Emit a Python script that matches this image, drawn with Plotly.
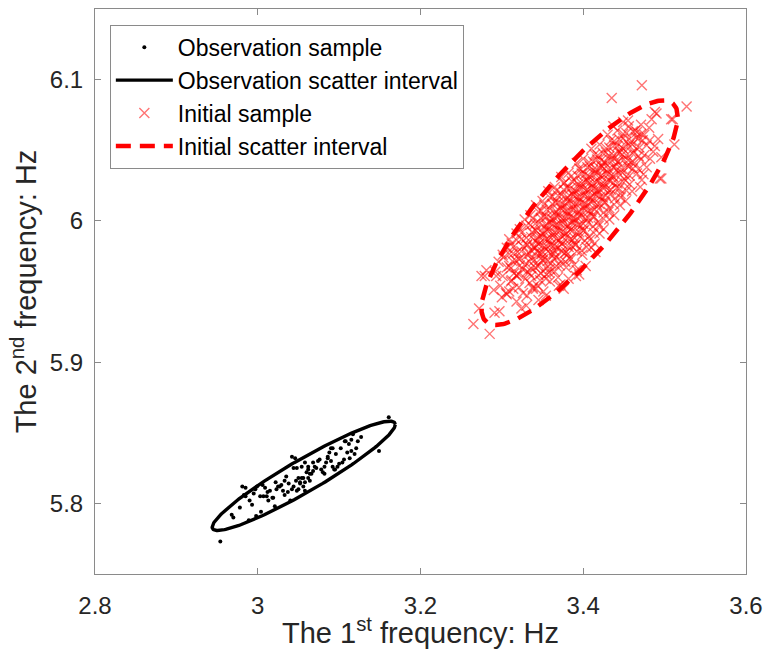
import numpy as np
import plotly.graph_objects as go

# ---------------- data ----------------
obs_points = [
    (2.954, 5.773), (3.161, 5.861), (2.968, 5.792), (2.970, 5.790), (2.989, 5.788),
    (2.998, 5.791), (3.004, 5.794), (2.990, 5.802), (2.985, 5.805), (2.995, 5.807),
    (2.997, 5.810), (2.999, 5.812), (3.006, 5.813), (3.007, 5.805), (3.011, 5.805),
    (3.013, 5.802), (3.018, 5.804), (3.021, 5.798), (3.015, 5.809), (3.023, 5.810),
    (3.022, 5.815), (3.027, 5.812), (3.031, 5.809), (3.033, 5.816), (3.033, 5.806),
    (3.038, 5.814), (3.040, 5.802), (3.042, 5.810), (3.044, 5.812), (3.047, 5.816),
    (3.050, 5.810), (3.052, 5.814), (3.056, 5.818), (3.058, 5.809), (3.044, 5.825),
    (3.048, 5.825), (3.054, 5.826), (3.058, 5.829), (3.062, 5.824), (3.064, 5.821),
    (3.064, 5.816), (3.046, 5.832), (3.042, 5.833), (2.983, 5.806), (2.981, 5.812),
    (2.985, 5.811), (3.009, 5.811), (3.019, 5.804), (3.025, 5.812), (3.037, 5.808),
    (3.048, 5.809), (3.050, 5.818), (3.062, 5.818), (3.149, 5.837), (3.127, 5.847),
    (3.123, 5.844), (3.115, 5.845), (3.108, 5.844), (3.112, 5.842), (3.121, 5.839),
    (3.115, 5.837), (3.110, 5.836), (3.106, 5.831), (3.104, 5.829), (3.098, 5.826),
    (3.095, 5.824), (3.090, 5.839), (3.088, 5.836), (3.086, 5.832), (3.084, 5.829),
    (3.090, 5.830), (3.092, 5.826), (3.082, 5.826), (3.078, 5.824), (3.080, 5.822),
    (3.074, 5.830), (3.072, 5.825), (3.068, 5.823), (3.066, 5.821), (3.060, 5.822),
    (3.054, 5.818), (3.056, 5.812), (3.052, 5.815), (3.062, 5.826), (3.068, 5.829),
    (3.096, 5.835), (3.102, 5.839), (3.117, 5.849), (3.107, 5.844), (3.113, 5.832),
    (3.119, 5.835), (3.076, 5.831), (3.086, 5.833), (3.094, 5.824), (3.100, 5.828),
    (3.092, 5.839), (3.070, 5.826), (3.082, 5.821), (3.058, 5.815), (3.035, 5.819),
    (3.029, 5.813), (3.012, 5.808), (3.003, 5.805), (2.993, 5.799), (2.978, 5.797),
]

init_points_outer = [
    (3.472, 6.096), (3.435, 6.087), (3.527, 6.081), (3.510, 6.072), (3.490, 6.076),
    (3.512, 6.054), (3.496, 6.030), (3.265, 5.927), (3.285, 5.920), (3.291, 5.935),
    (3.281, 5.965), (3.275, 5.961), (3.305, 5.949), (3.324, 5.938), (3.354, 5.959),
    (3.342, 5.952), (3.376, 5.952), (3.395, 5.962), (3.488, 6.077), (3.508, 6.072),
    (3.496, 6.045), (3.494, 6.030), (3.437, 6.067), (3.449, 6.070), (3.464, 6.064),
    (3.272, 5.938), (3.279, 5.961), (3.293, 5.961), (3.301, 5.976), (3.309, 5.987),
    (3.330, 5.940), (3.354, 5.947), (3.370, 5.954), (3.391, 5.961), (3.403, 5.968),
    (3.415, 5.978), (3.318, 5.961), (3.309, 5.950), (3.297, 5.936), (3.338, 5.952),
]

init_points_body = [
    (3.300, 5.946), (3.318, 5.943), (3.331, 5.947), (3.345, 5.944),
    (3.290, 5.951), (3.306, 5.948), (3.314, 5.952), (3.326, 5.949), (3.338, 5.953), (3.351, 5.950),
    (3.298, 5.954), (3.311, 5.957), (3.321, 5.953), (3.334, 5.956), (3.344, 5.954), (3.359, 5.957),
    (3.372, 5.955),
    (3.301, 5.961), (3.312, 5.958), (3.321, 5.962), (3.329, 5.959), (3.336, 5.961), (3.347, 5.958),
    (3.355, 5.962), (3.369, 5.960), (3.382, 5.959),
    (3.292, 5.964), (3.306, 5.967), (3.315, 5.963), (3.325, 5.966), (3.331, 5.964), (3.341, 5.967),
    (3.348, 5.963), (3.359, 5.966), (3.365, 5.964), (3.379, 5.967), (3.392, 5.965),
    (3.296, 5.971), (3.309, 5.968), (3.317, 5.972), (3.328, 5.969), (3.334, 5.971), (3.344, 5.968),
    (3.350, 5.972), (3.360, 5.970), (3.367, 5.968), (3.378, 5.971), (3.389, 5.969),
    (3.302, 5.974), (3.314, 5.977), (3.321, 5.973), (3.331, 5.976), (3.337, 5.974), (3.346, 5.977),
    (3.351, 5.973), (3.361, 5.976), (3.367, 5.974), (3.377, 5.977), (3.385, 5.973), (3.399, 5.976),
    (3.306, 5.981), (3.319, 5.978), (3.326, 5.982), (3.336, 5.979), (3.341, 5.981), (3.350, 5.978),
    (3.355, 5.982), (3.364, 5.979), (3.369, 5.981), (3.379, 5.978), (3.386, 5.982), (3.398, 5.979),
    (3.410, 5.981),
    (3.312, 5.984), (3.324, 5.987), (3.331, 5.983), (3.341, 5.986), (3.346, 5.984), (3.355, 5.987),
    (3.360, 5.983), (3.369, 5.986), (3.374, 5.984), (3.384, 5.987), (3.390, 5.983), (3.402, 5.986),
    (3.414, 5.984),
    (3.318, 5.991), (3.330, 5.988), (3.337, 5.992), (3.346, 5.989), (3.351, 5.991), (3.360, 5.988),
    (3.365, 5.992), (3.374, 5.989), (3.379, 5.991), (3.389, 5.988), (3.395, 5.992), (3.407, 5.989),
    (3.420, 5.991),
    (3.322, 5.994), (3.335, 5.997), (3.342, 5.993), (3.352, 5.996), (3.357, 5.994), (3.366, 5.997),
    (3.371, 5.993), (3.380, 5.996), (3.385, 5.994), (3.394, 5.997), (3.400, 5.993), (3.412, 5.996),
    (3.425, 5.994),
    (3.328, 6.001), (3.341, 5.998), (3.348, 6.002), (3.358, 5.999), (3.363, 6.001), (3.372, 5.998),
    (3.377, 6.002), (3.386, 5.999), (3.391, 6.001), (3.400, 5.998), (3.406, 6.002), (3.418, 5.999),
    (3.432, 6.001),
    (3.335, 6.004), (3.348, 6.007), (3.355, 6.003), (3.365, 6.006), (3.370, 6.004), (3.379, 6.007),
    (3.384, 6.003), (3.393, 6.006), (3.398, 6.004), (3.407, 6.007), (3.413, 6.003), (3.425, 6.006),
    (3.438, 6.004),
    (3.342, 6.011), (3.355, 6.008), (3.362, 6.012), (3.372, 6.009), (3.377, 6.011), (3.386, 6.008),
    (3.391, 6.012), (3.400, 6.009), (3.405, 6.011), (3.414, 6.008), (3.420, 6.012), (3.432, 6.009),
    (3.445, 6.011),
    (3.350, 6.014), (3.362, 6.017), (3.369, 6.013), (3.379, 6.016), (3.384, 6.014), (3.393, 6.017),
    (3.398, 6.013), (3.407, 6.016), (3.412, 6.014), (3.421, 6.017), (3.427, 6.013), (3.439, 6.016),
    (3.452, 6.014),
    (3.357, 6.021), (3.369, 6.018), (3.376, 6.022), (3.386, 6.019), (3.391, 6.021), (3.400, 6.018),
    (3.405, 6.022), (3.414, 6.019), (3.419, 6.021), (3.428, 6.018), (3.434, 6.022), (3.446, 6.019),
    (3.460, 6.021),
    (3.365, 6.024), (3.377, 6.027), (3.384, 6.023), (3.394, 6.026), (3.399, 6.024), (3.408, 6.027),
    (3.413, 6.023), (3.422, 6.026), (3.427, 6.024), (3.437, 6.027), (3.444, 6.023), (3.457, 6.026),
    (3.470, 6.024),
    (3.373, 6.031), (3.386, 6.028), (3.393, 6.032), (3.403, 6.029), (3.408, 6.031), (3.417, 6.028),
    (3.422, 6.032), (3.431, 6.029), (3.437, 6.031), (3.448, 6.028), (3.457, 6.032), (3.472, 6.029),
    (3.382, 6.034), (3.395, 6.037), (3.402, 6.033), (3.412, 6.036), (3.417, 6.034), (3.426, 6.037),
    (3.431, 6.033), (3.441, 6.036), (3.448, 6.034), (3.461, 6.037), (3.474, 6.033),
    (3.392, 6.041), (3.405, 6.038), (3.412, 6.042), (3.422, 6.039), (3.427, 6.041), (3.437, 6.038),
    (3.443, 6.042), (3.454, 6.039), (3.463, 6.041), (3.478, 6.038),
    (3.400, 6.044), (3.414, 6.047), (3.422, 6.043), (3.432, 6.046), (3.438, 6.044), (3.448, 6.047),
    (3.455, 6.043), (3.468, 6.046), (3.482, 6.044),
    (3.410, 6.051), (3.424, 6.048), (3.432, 6.052), (3.443, 6.049), (3.449, 6.051), (3.460, 6.048),
    (3.469, 6.052), (3.486, 6.049),
    (3.420, 6.054), (3.434, 6.057), (3.442, 6.053), (3.453, 6.056), (3.460, 6.054), (3.473, 6.057),
    (3.488, 6.053),
    (3.430, 6.061), (3.444, 6.058), (3.453, 6.062), (3.465, 6.059), (3.475, 6.061), (3.492, 6.058),
    (3.442, 6.064), (3.456, 6.067), (3.466, 6.063), (3.481, 6.066),
    (3.455, 6.071), (3.471, 6.068), (3.484, 6.072),
]

init_points_core = [
    (3.318, 5.9615), (3.333, 5.9635), (3.345, 5.9615), (3.358, 5.9635),
    (3.311, 5.9665), (3.322, 5.9685), (3.336, 5.9665), (3.346, 5.9685), (3.355, 5.9665), (3.371, 5.9685),
    (3.313, 5.9715), (3.323, 5.9735), (3.339, 5.9715), (3.348, 5.9735), (3.356, 5.9715), (3.364, 5.9735),
    (3.373, 5.9715), (3.383, 5.9735),
    (3.309, 5.9765), (3.324, 5.9785), (3.334, 5.9765), (3.343, 5.9785), (3.349, 5.9765), (3.357, 5.9785),
    (3.364, 5.9765), (3.373, 5.9785), (3.381, 5.9765), (3.392, 5.9785),
    (3.314, 5.9815), (3.331, 5.9835), (3.339, 5.9815), (3.345, 5.9835), (3.352, 5.9815), (3.360, 5.9835),
    (3.366, 5.9815), (3.374, 5.9835), (3.382, 5.9815), (3.391, 5.9835), (3.404, 5.9815),
    (3.318, 5.9865), (3.336, 5.9885), (3.344, 5.9865), (3.350, 5.9885), (3.357, 5.9865), (3.364, 5.9885),
    (3.371, 5.9865), (3.379, 5.9885), (3.387, 5.9865), (3.396, 5.9885), (3.408, 5.9865),
    (3.324, 5.9915), (3.341, 5.9935), (3.349, 5.9915), (3.355, 5.9935), (3.362, 5.9915), (3.369, 5.9935),
    (3.376, 5.9915), (3.384, 5.9935), (3.392, 5.9915), (3.401, 5.9935), (3.413, 5.9915),
    (3.330, 5.9965), (3.346, 5.9985), (3.355, 5.9965), (3.361, 5.9985), (3.368, 5.9965), (3.375, 5.9985),
    (3.382, 5.9965), (3.389, 5.9985), (3.397, 5.9965), (3.406, 5.9985), (3.419, 5.9965),
    (3.338, 6.0015), (3.352, 6.0035), (3.361, 6.0015), (3.367, 6.0035), (3.374, 6.0015), (3.381, 6.0035),
    (3.388, 6.0015), (3.395, 6.0035), (3.403, 6.0015), (3.412, 6.0035), (3.425, 6.0015),
    (3.345, 6.0065), (3.359, 6.0085), (3.367, 6.0065), (3.374, 6.0085), (3.381, 6.0065), (3.388, 6.0085),
    (3.395, 6.0065), (3.402, 6.0085), (3.410, 6.0065), (3.419, 6.0085), (3.431, 6.0065),
    (3.352, 6.0115), (3.366, 6.0135), (3.374, 6.0115), (3.381, 6.0135), (3.388, 6.0115), (3.395, 6.0135),
    (3.402, 6.0115), (3.409, 6.0135), (3.417, 6.0115), (3.426, 6.0135), (3.438, 6.0115),
    (3.359, 6.0165), (3.373, 6.0185), (3.381, 6.0165), (3.388, 6.0185), (3.395, 6.0165), (3.402, 6.0185),
    (3.409, 6.0165), (3.416, 6.0185), (3.424, 6.0165), (3.433, 6.0185), (3.446, 6.0165),
    (3.367, 6.0215), (3.380, 6.0235), (3.389, 6.0215), (3.396, 6.0235), (3.403, 6.0215), (3.410, 6.0235),
    (3.417, 6.0215), (3.424, 6.0235), (3.432, 6.0215), (3.441, 6.0235), (3.453, 6.0215),
    (3.376, 6.0265), (3.389, 6.0285), (3.398, 6.0265), (3.405, 6.0285), (3.412, 6.0265), (3.419, 6.0285),
    (3.426, 6.0265), (3.433, 6.0285), (3.442, 6.0265), (3.452, 6.0285),
    (3.385, 6.0315), (3.398, 6.0335), (3.407, 6.0315), (3.414, 6.0335), (3.421, 6.0315), (3.428, 6.0335),
    (3.436, 6.0315), (3.444, 6.0335), (3.453, 6.0315), (3.466, 6.0335),
    (3.397, 6.0365), (3.408, 6.0385), (3.416, 6.0365), (3.423, 6.0385), (3.431, 6.0365), (3.439, 6.0385),
    (3.447, 6.0365), (3.456, 6.0385), (3.468, 6.0365),
    (3.407, 6.0415), (3.417, 6.0435), (3.426, 6.0415), (3.434, 6.0435), (3.442, 6.0415), (3.450, 6.0435),
    (3.459, 6.0415), (3.471, 6.0435),
    (3.418, 6.0465), (3.428, 6.0485), (3.437, 6.0465), (3.445, 6.0485), (3.453, 6.0465), (3.462, 6.0485),
    (3.475, 6.0465),
    (3.428, 6.0515), (3.438, 6.0535), (3.448, 6.0515), (3.456, 6.0535), (3.465, 6.0515), (3.478, 6.0535),
    (3.438, 6.0565), (3.449, 6.0585), (3.459, 6.0565), (3.468, 6.0585), (3.481, 6.0565),
    (3.449, 6.0615), (3.461, 6.0635), (3.471, 6.0615),
]

# scatter-interval ellipses: centre, half-extent in f1, half-extent in f2, correlation
obs_ellipse = dict(c1=3.0565, c2=5.8195, h1=0.1125, h2=0.0387, rho=0.94)
init_ellipse = dict(c1=3.3955, c2=6.0058, h1=0.1206, h2=0.0795, rho=0.853)

x_ticks = [2.8, 3.0, 3.2, 3.4, 3.6]
x_tick_text = ["2.8", "3", "3.2", "3.4", "3.6"]
y_ticks = [5.8, 5.9, 6.0, 6.1]
y_tick_text = ["5.8", "5.9", "6", "6.1"]

legend_names = ["Observation sample", "Observation scatter interval",
                "Initial sample", "Initial scatter interval"]


def ellipse_curve(e, n=241):
    t = np.linspace(0, 2 * np.pi, n)
    f1 = e["c1"] + e["h1"] * np.cos(t)
    f2 = e["c2"] + e["h2"] * (e["rho"] * np.cos(t) + np.sqrt(1 - e["rho"] ** 2) * np.sin(t))
    return f1, f2


FONT = "Liberation Sans, Arial, sans-serif"

obs_f1 = [p[0] for p in obs_points]
obs_f2 = [p[1] for p in obs_points]
init_all = init_points_outer + init_points_body + init_points_core
init_f1 = [p[0] for p in init_all]
init_f2 = [p[1] for p in init_all]

fig = go.Figure()

fig.add_trace(go.Scatter(
    x=obs_f1, y=obs_f2, mode="markers", name=legend_names[0],
    marker=dict(symbol="circle", size=4, color="black", line=dict(width=0)),
))
e1x, e1y = ellipse_curve(obs_ellipse)
fig.add_trace(go.Scatter(
    x=e1x, y=e1y, mode="lines", name=legend_names[1],
    line=dict(color="black", width=3.4),
))
fig.add_trace(go.Scatter(
    x=init_f1, y=init_f2, mode="markers", name=legend_names[2],
    marker=dict(symbol="x-thin", size=10, color="rgba(255,0,0,0.55)",
                line=dict(color="rgba(255,0,0,0.55)", width=1.4)),
))
e2x, e2y = ellipse_curve(init_ellipse)
fig.add_trace(go.Scatter(
    x=e2x, y=e2y, mode="lines", name=legend_names[3],
    line=dict(color="#ff0000", width=4.5, dash="15px,9px"),
))

axis_common = dict(
    showgrid=False, zeroline=False, showline=True, linecolor="#8a8a8a", linewidth=1,
    mirror="ticks", ticks="inside", ticklen=6, tickcolor="#8a8a8a", tickwidth=1,
    tickfont=dict(family=FONT, size=24, color="#262626"),
)

fig.update_layout(
    width=771, height=649,
    margin=dict(l=95, r=19, t=8, b=72),
    paper_bgcolor="white", plot_bgcolor="white",
    showlegend=True,
    legend=dict(
        x=0.0228, y=0.972, xanchor="left", yanchor="top",
        bgcolor="white", bordercolor="#8a8a8a", borderwidth=1,
        font=dict(family=FONT, size=23, color="black"),
        itemwidth=57,
    ),
    xaxis=dict(
        range=[2.8, 3.6], tickvals=x_ticks, ticktext=x_tick_text,
        title=dict(text="The 1<sup>st</sup> frequency: Hz", standoff=2,
                   font=dict(family=FONT, size=29, color="#262626")),
        ticklabelstandoff=10,
        **axis_common,
    ),
    yaxis=dict(
        range=[5.75, 6.15], tickvals=y_ticks, ticktext=y_tick_text,
        title=dict(text="The 2<sup>nd</sup> frequency: Hz", standoff=4,
                   font=dict(family=FONT, size=29, color="#262626")),
        ticklabelstandoff=6,
        **axis_common,
    ),
)

fig.write_html("out.html")
